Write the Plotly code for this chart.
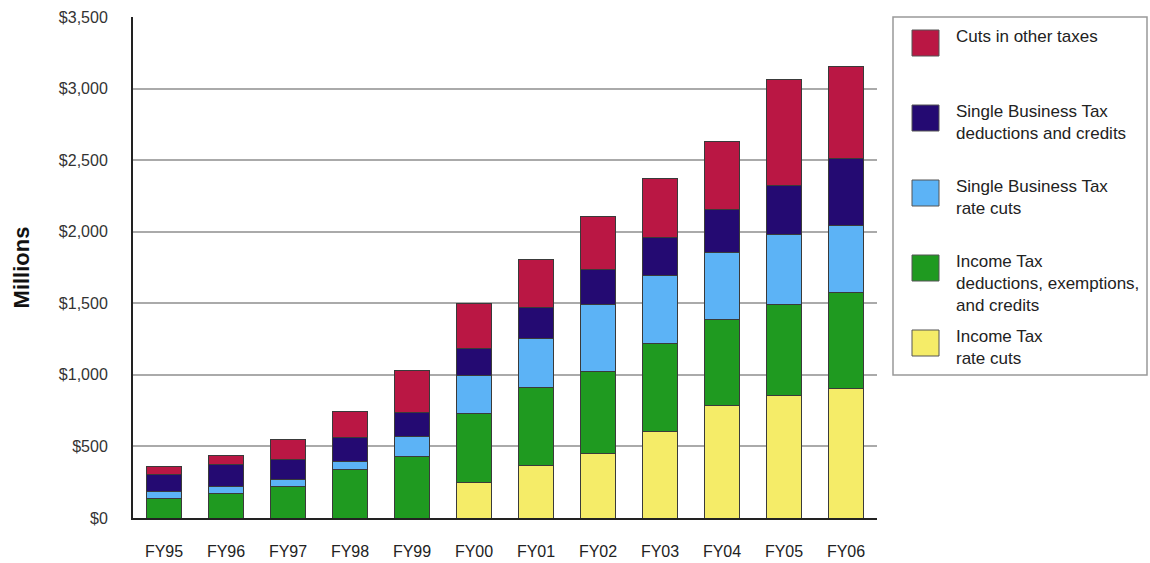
import plotly.graph_objects as go

years = ["FY95", "FY96", "FY97", "FY98", "FY99", "FY00", "FY01", "FY02", "FY03", "FY04", "FY05", "FY06"]

income_rate = [0, 0, 0, 0, 0, 246, 364, 452, 607, 785, 858, 903]
income_deductions = [137, 170, 220, 341, 428, 487, 547, 569, 610, 605, 635, 670]
sbt_rate = [47, 47, 49, 52, 141, 261, 341, 474, 474, 462, 489, 469]
sbt_deductions = [117, 155, 143, 167, 167, 193, 221, 244, 269, 301, 339, 467]
other_taxes = [57, 63, 134, 181, 295, 311, 336, 364, 411, 479, 745, 645]

series_names = [
    "Income Tax<br>rate cuts",
    "Income Tax<br>deductions, exemptions,<br>and credits",
    "Single Business Tax<br>rate cuts",
    "Single Business Tax<br>deductions and credits",
    "Cuts in other taxes",
]
series_values = [income_rate, income_deductions, sbt_rate, sbt_deductions, other_taxes]
series_colors = ["#F5EC68", "#1F9A20", "#5CB3F6", "#240A72", "#BA1744"]

tick_vals = [0, 500, 1000, 1500, 2000, 2500, 3000, 3500]
tick_text = ["$0", "$500", "$1,000", "$1,500", "$2,000", "$2,500", "$3,000", "$3,500"]

FONT = "Arial, Liberation Sans, sans-serif"
W, H = 1150, 563
ML, MR, MT, MB = 133, 273, 17, 45

fig = go.Figure()
for name, vals, col in zip(series_names, series_values, series_colors):
    fig.add_trace(go.Bar(
        x=years, y=vals, name=name, showlegend=False,
        marker=dict(color=col, line=dict(color="#3a3a3a", width=1)),
    ))

fig.update_layout(
    width=W, height=H,
    margin=dict(l=ML, r=MR, t=MT, b=MB, autoexpand=False),
    barmode="stack", bargap=0.42,
    paper_bgcolor="white", plot_bgcolor="white",
    font=dict(family=FONT, color="#333333"),
    xaxis=dict(
        automargin=False,
        showgrid=False, showline=True, linecolor="#222222", linewidth=2,
        ticks="", tickfont=dict(size=16, color="#222222"), ticklabelstandoff=18,
    ),
    yaxis=dict(
        automargin=False,
        range=[0, 3500], tickvals=tick_vals, ticktext=tick_text,
        showgrid=True, gridcolor="#AAAAAA", gridwidth=1.5,
        showline=True, linecolor="#222222", linewidth=2,
        zeroline=False, ticks="", ticklabelstandoff=20,
        tickfont=dict(size=16, color="#333333"),
        title=dict(text="<b>Millions</b>", font=dict(size=22, color="#111111"), standoff=23),
    ),
)

# Manual legend drawn in pixel space converted to paper coordinates
pw = W - ML - MR
ph = H - MT - MB

def px(x):
    return (x - ML) / pw

def py(y):
    return (H - MB - y) / ph

shapes = [dict(type="rect", xref="paper", yref="paper",
               x0=px(893), x1=px(1147), y0=py(17), y1=py(375),
               line=dict(color="#999999", width=1.5), fillcolor="white", layer="below")]
annotations = []
legend_order = list(zip(series_names, series_colors))[::-1]
for i, (name, col) in enumerate(legend_order):
    top = 30 + 75 * i
    shapes.append(dict(type="rect", xref="paper", yref="paper",
                       x0=px(912), x1=px(939), y0=py(top), y1=py(top + 26),
                       line=dict(color="#555555", width=1), fillcolor=col))
    annotations.append(dict(xref="paper", yref="paper", x=px(954), y=py(top - 5),
                            xanchor="left", yanchor="top", align="left", showarrow=False,
                            text=name, font=dict(size=17, color="#222222", family=FONT)))

fig.update_layout(shapes=shapes, annotations=annotations)
fig.write_html("out.html")
